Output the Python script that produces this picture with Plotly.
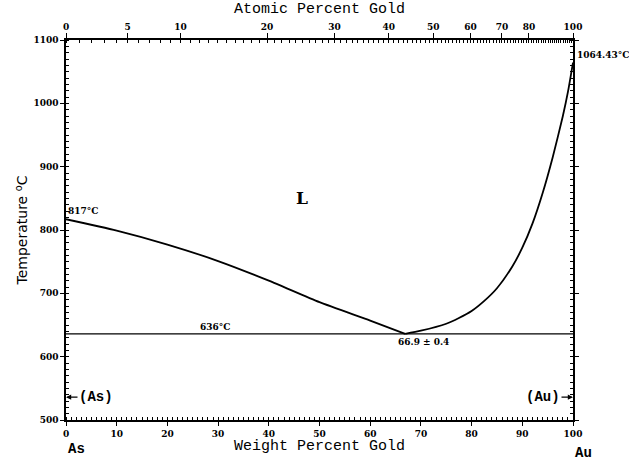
import plotly.graph_objects as go

# ---------------- data ----------------
left_wt = [0, 10, 20, 30, 40, 50, 60, 66.9]
left_T = [817, 799, 777, 751, 720, 686, 657, 636]
right_wt = [66.9, 70, 75, 77.5, 80, 82.5, 85, 88, 90, 92, 94, 96, 98, 99, 100]
right_T = [636, 641, 652, 661, 672, 688, 708, 742, 772, 810, 858, 915, 980, 1018, 1064.43]
eut_wt = [0, 100]
eut_T = [636, 636]

y_ticks = [500, 600, 700, 800, 900, 1000, 1100]
x_ticks = [0, 10, 20, 30, 40, 50, 60, 70, 80, 90, 100]
at_ticks = [0, 5, 10, 20, 30, 40, 50, 60, 70, 80, 100]

M_AU = 196.967
M_AS = 74.9216


def at_to_wt(a):
    return 100.0 * a * M_AU / (a * M_AU + (100 - a) * M_AS)


at_tickpos = [at_to_wt(a) for a in at_ticks]
at_minor = [at_to_wt(a) for a in range(0, 101)]

tickfont = dict(family="DejaVu Serif", size=9, color="black", weight="bold")
titlefont = dict(family="Liberation Mono", size=15, color="black")
line = dict(color="black", width=1.8)

fig = go.Figure()
fig.add_trace(go.Scatter(x=left_wt, y=left_T, mode="lines", line=dict(shape="spline", smoothing=0.6, **line), hoverinfo="skip"))
fig.add_trace(go.Scatter(x=right_wt, y=right_T, mode="lines", line=dict(shape="spline", smoothing=0.6, **line), hoverinfo="skip"))
fig.add_trace(go.Scatter(x=eut_wt, y=eut_T, mode="lines", line=dict(color="black", width=1.2), hoverinfo="skip"))
# dummy trace for top axis
fig.add_trace(go.Scatter(x=[0, 100], y=[500, 500], xaxis="x2", mode="lines", line=dict(width=0), hoverinfo="skip"))

fig.update_layout(
    width=629, height=462,
    margin=dict(l=66, r=56, t=40, b=42),
    paper_bgcolor="white", plot_bgcolor="white",
    showlegend=False,
    xaxis=dict(
        range=[0, 100], tickmode="array", tickvals=x_ticks,
        showline=True, linecolor="black", linewidth=1.5,
        ticks="outside", ticklen=4, tickcolor="black", tickwidth=1.2,
        minor=dict(dtick=1, ticks="inside", ticklen=3, tickcolor="black", tickwidth=1),
        showgrid=False, zeroline=False, tickfont=tickfont,
    ),
    xaxis2=dict(
        range=[0, 100], overlaying="x", side="top", tickmode="array",
        tickvals=at_tickpos, ticktext=[str(a) for a in at_ticks],
        showline=True, linecolor="black", linewidth=1.5,
        ticks="outside", ticklen=5, tickcolor="black", tickwidth=1.2,
        minor=dict(tickmode="array", tickvals=at_minor, ticks="inside", ticklen=3, tickcolor="black", tickwidth=1),
        showgrid=False, zeroline=False, tickfont=tickfont,
    ),
    yaxis=dict(
        range=[500, 1100], tickmode="array", tickvals=y_ticks,
        showline=True, linecolor="black", linewidth=1.5, mirror="ticks",
        ticks="outside", ticklen=4, tickcolor="black", tickwidth=1.2,
        minor=dict(dtick=10, ticks="inside", ticklen=3, tickcolor="black", tickwidth=1),
        showgrid=False, zeroline=False, tickfont=tickfont,
        title=dict(text="Temperature <sup>o</sup>C", font=dict(family="DejaVu Sans", size=14, color="black"), standoff=2),
    ),
)

ann_font = dict(family="DejaVu Serif", size=9, color="black", weight="bold")
lbl_font = dict(family="Liberation Mono", size=14, color="black", weight="bold")
annotations = [
    dict(x=0.5, y=1.079, xref="paper", yref="paper", text="Atomic Percent Gold", showarrow=False,
         yanchor="middle", font=titlefont),
    dict(x=0.5, y=-0.071, xref="paper", yref="paper", text="Weight Percent Gold", showarrow=False,
         yanchor="middle", font=titlefont),
    dict(x=0, y=-0.077, xref="paper", yref="paper", text="As", showarrow=False, xanchor="left",
         yanchor="middle", font=lbl_font),
    dict(x=1.0, y=-0.088, xref="paper", yref="paper", text="Au", showarrow=False, xanchor="left",
         yanchor="middle", font=lbl_font),
    dict(x=0, y=817, text="817°C", showarrow=False, xanchor="left", yanchor="bottom", yshift=1, font=ann_font),
    dict(x=26, y=636, text="636°C", showarrow=False, xanchor="left", yanchor="bottom", yshift=0, font=ann_font),
    dict(x=70.5, y=636, text="66.9 ± 0.4", showarrow=False, yanchor="top", yshift=-1, font=ann_font),
    dict(x=100, y=1064.43, text="1064.43°C", showarrow=False, xanchor="left", yanchor="middle", xshift=2, yshift=8,
         font=ann_font),
    dict(x=46.5, y=850, text="L", showarrow=False, font=dict(family="DejaVu Serif", size=17, color="black", weight="bold")),
    dict(x=0, y=536, text="(As)", showarrow=True, ax=30, ay=0, arrowhead=2, arrowsize=0.8, arrowwidth=1.3,
         arrowcolor="black", font=lbl_font),
    dict(x=100, y=536, text="(Au)", showarrow=True, ax=-30, ay=0, arrowhead=2, arrowsize=0.8, arrowwidth=1.3,
         arrowcolor="black", font=lbl_font),
]
fig.update_layout(annotations=annotations)

fig.write_html("out.html")
